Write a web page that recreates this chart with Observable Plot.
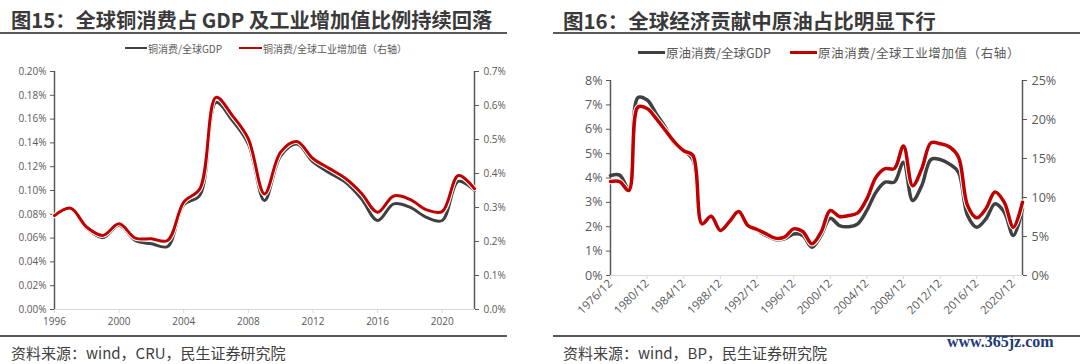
<!DOCTYPE html>
<html>
<head>
<meta charset="utf-8">
<script src="https://cdn.jsdelivr.net/npm/d3@7"></script>
<script src="https://cdn.jsdelivr.net/npm/@observablehq/plot@0.6"></script>
<style>
  html, body { margin: 0; padding: 0; background: #fff; }
  body { width: 1080px; height: 364px; position: relative; overflow: hidden; font-family: "Noto Sans CJK SC", "Noto Sans", sans-serif; }
  .abs { position: absolute; white-space: nowrap; }
  .title { font-weight: bold; color: #3a3a3a; line-height: 22px; }
  .rule { background: #595959; height: 2px; }
  .leg { display: flex; align-items: center; color: #595959; }
  .leg .sw { display: inline-block; margin-right: 1px; }
  .src { font-size: 15px; color: #404040; line-height: 18px; }
  .wm { font-family: "Liberation Serif", "DejaVu Serif", serif; font-weight: bold; color: #1c3c78; font-size: 16px; line-height: 18px; }
  .chart { z-index: 1; }
</style>
</head>
<body>
<div class="abs title" style="left:11px;top:8px;font-size:20.3px;">图15：全球铜消费占 GDP 及工业增加值比例持续回落</div>
<div class="abs rule" style="left:0;top:32px;width:507px;"></div>
<div class="abs title" style="left:563px;top:9px;font-size:20.5px;">图16：全球经济贡献中原油占比明显下行</div>
<div class="abs rule" style="left:553px;top:32px;width:527px;"></div>

<div class="abs leg" style="left:125px;top:41px;font-size:10px;height:14px;"><span class="sw" style="width:22px;height:2.5px;background:#404040"></span><span id="l1a"></span></div>
<div class="abs leg" style="left:239px;top:41px;font-size:10px;height:14px;"><span class="sw" style="width:23px;height:2.5px;background:#c00000"></span><span id="l1b"></span></div>
<div class="abs leg" style="left:638px;top:44px;font-size:12.5px;height:16px;"><span class="sw" style="width:27px;height:3px;background:#404040"></span><span id="l2a"></span></div>
<div class="abs leg" style="left:790px;top:44px;font-size:12.5px;height:16px;"><span class="sw" style="width:27px;height:3px;background:#c00000"></span><span id="l2b" style="letter-spacing:0.6px"></span></div>

<div id="c1" class="abs chart" style="left:0;top:60px;"></div>
<div id="c2" class="abs chart" style="left:540px;top:60px;"></div>

<div class="abs rule" style="left:0;top:335px;width:507px;"></div>
<div class="abs rule" style="left:553px;top:335px;width:527px;"></div>
<div class="abs src" style="left:11px;top:344px;">资料来源：wind，CRU，民生证券研究院</div>
<div class="abs src" style="left:563px;top:344px;">资料来源：wind，BP，民生证券研究院</div>
<div class="abs wm" style="left:947px;top:333px;">www.365jz.com</div>

<script>
// ---------- Chart 1 data: copper ----------
const copperYears = [1996,1997,1998,1999,2000,2001,2002,2003,2004,2005,2006,2007,2008,2009,2010,2011,2012,2013,2014,2015,2016,2017,2018,2019,2020,2021,2022];
const copperGdp = [0.0796,0.0846,0.068,0.0604,0.0706,0.058,0.0552,0.053,0.088,0.096,0.174,0.159,0.139,0.0916,0.129,0.139,0.124,0.115,0.107,0.093,0.0748,0.0888,0.086,0.0776,0.0748,0.1076,0.100];
const copperInd = [0.276,0.298,0.242,0.218,0.252,0.210,0.208,0.203,0.316,0.355,0.624,0.571,0.502,0.340,0.463,0.494,0.444,0.415,0.386,0.342,0.286,0.334,0.324,0.294,0.288,0.394,0.355];
const copperXTicks = [1996,2000,2004,2008,2012,2016,2020];
const copperLeftTicks = [0,0.02,0.04,0.06,0.08,0.10,0.12,0.14,0.16,0.18,0.20];
const copperRightTicks = [0,0.1,0.2,0.3,0.4,0.5,0.6,0.7];
const copperSeries = ["铜消费/全球GDP", "铜消费/全球工业增加值（右轴）"];

// ---------- Chart 2 data: crude oil ----------
const oilYears = [1976,1977,1978,1979,1980,1981,1982,1983,1984,1985,1986,1987,1988,1989,1990,1991,1992,1993,1994,1995,1996,1997,1998,1999,2000,2001,2002,2003,2004,2005,2006,2007,2008,2009,2010,2011,2012,2013,2014,2015,2016,2017,2018,2019,2020,2021];
const oilGdp = [4.10,4.12,3.56,7.3,7.2,6.63,6.08,5.40,5.13,4.75,2.12,2.46,1.85,2.19,2.60,2.05,1.85,1.64,1.48,1.50,1.70,1.64,1.16,1.64,2.35,2.05,2.00,2.12,2.67,3.42,3.83,3.83,4.65,3.08,3.69,4.76,4.76,4.58,4.24,2.46,1.98,2.32,2.94,2.60,1.64,2.74];
const oilInd = [12.05,12.05,10.9,21.6,21.4,20.1,18.6,17.1,16.0,15.4,6.62,7.6,5.77,6.92,8.2,6.41,5.9,5.34,4.79,4.91,5.98,5.64,4.06,5.56,8.33,7.56,7.69,8.03,9.83,12.6,13.7,13.7,16.6,11.5,13.7,17.0,16.9,16.5,15.2,8.97,7.39,8.55,10.7,9.4,6.2,9.4];
const oilXTicks = [1976,1980,1984,1988,1992,1996,2000,2004,2008,2012,2016,2020];
const oilLeftTicks = [0,1,2,3,4,5,6,7,8];
const oilRightTicks = [0,5,10,15,20,25];
const oilSeries = ["原油消费/全球GDP", "原油消费/全球工业增加值（右轴）"];

const GRAY = "#404040", RED = "#c00000", AXIS = "#595959", LIGHT = "#d9d9d9";

document.getElementById("l1a").textContent = copperSeries[0];
document.getElementById("l1b").textContent = copperSeries[1];
document.getElementById("l2a").textContent = oilSeries[0];
document.getElementById("l2b").textContent = oilSeries[1];

function dualChart(o) {
  const ratio = o.leftMax / o.rightMax;
  const g = o.years.map((x, i) => ({x, v: o.gdp[i]}));
  const r = o.years.map((x, i) => ({x, v: o.ind[i] * ratio}));
  return Plot.plot({
    width: 540, height: 280,
    marginLeft: o.ml, marginRight: o.mr, marginTop: o.mt, marginBottom: o.mb,
    style: {fontFamily: "'Open Sans', 'Noto Sans', sans-serif", fontSize: o.fs + "px", color: AXIS, background: "transparent", overflow: "visible"},
    x: {domain: [o.years[0], o.years[o.years.length - 1]]},
    y: {domain: [0, o.leftMax]},
    marks: [
      Plot.ruleY([0], {stroke: LIGHT, strokeWidth: 1}),
      Plot.axisX(o.xTicks, {tickSize: 4, stroke: LIGHT, fill: AXIS, tickPadding: o.xPad, tickRotate: o.rot, tickFormat: o.xFmt, label: null, fontSize: o.xfs}),
      Plot.ruleX([o.years[0]], {stroke: AXIS, strokeWidth: 1.5}),
      Plot.ruleX([o.years[o.years.length - 1]], {stroke: AXIS, strokeWidth: 1.5}),
      Plot.axisY(o.leftTicks, {anchor: "left", tickSize: 4, tickPadding: 4, stroke: AXIS, fill: AXIS, tickFormat: o.lFmt, label: null}),
      Plot.axisY(o.rightTicks.map(d => d * ratio), {anchor: "right", tickSize: 4, tickPadding: 5, stroke: AXIS, fill: AXIS, tickFormat: d => o.rFmt(d / ratio), label: null}),
      Plot.line(g, {x: "x", y: "v", stroke: GRAY, strokeWidth: o.sw, curve: "catmull-rom"}),
      Plot.line(r, {x: "x", y: "v", stroke: "#fff", strokeWidth: o.sw + 2, curve: "catmull-rom"}),
      Plot.line(r, {x: "x", y: "v", stroke: RED, strokeWidth: o.sw, curve: "catmull-rom"})
    ]
  });
}

document.getElementById("c1").append(dualChart({
  years: copperYears, gdp: copperGdp, ind: copperInd,
  xTicks: copperXTicks, leftTicks: copperLeftTicks, rightTicks: copperRightTicks,
  leftMax: 0.2, rightMax: 0.7,
  ml: 54, mr: 66, mt: 11, mb: 31, fs: 10, xfs: 10, sw: 3, xPad: 4, rot: 0,
  xFmt: d => String(d), lFmt: d => d.toFixed(2) + "%", rFmt: d => d.toFixed(1) + "%"
}));

document.getElementById("c2").append(dualChart({
  years: oilYears, gdp: oilGdp, ind: oilInd,
  xTicks: oilXTicks, leftTicks: oilLeftTicks, rightTicks: oilRightTicks,
  leftMax: 8, rightMax: 25,
  ml: 70, mr: 58, mt: 20, mb: 65, fs: 12.5, xfs: 11.5, sw: 3.5, xPad: 2, rot: -45,
  xFmt: d => d + "/12", lFmt: d => d + "%", rFmt: d => Math.round(d) + "%"
}));
</script>
</body>
</html>
